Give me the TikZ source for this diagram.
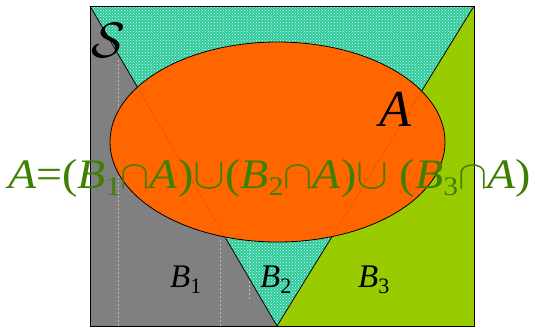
\documentclass[tikz,border=0pt]{standalone}
\usepackage{graphicx}
\usepackage{fontspec}
\setmainfont{Liberation Serif}
\usetikzlibrary{patterns}
\definecolor{grayB}{HTML}{808080}
\definecolor{tealB}{HTML}{2FCB9C}
\definecolor{greenB}{HTML}{99CC00}
\definecolor{orangeA}{HTML}{FF6600}
\definecolor{textgreen}{HTML}{3F7F00}
\newcommand\fsub[1]{\raisebox{-7pt}{\fontsize{27}{27}\selectfont #1}}
\newcommand\lsub[1]{\raisebox{-6pt}{\fontsize{22}{22}\selectfont #1}}
\newcommand\capsym{\scalebox{1.6}{\Huge$\cap$}}
\newcommand\cupsym{\scalebox{1.75}{\Huge$\cup$}}
\tikzset{
  edgeline/.style={draw=black, line width=0.8pt},
  ghost/.style={draw=white, opacity=0.45, dash pattern=on 2pt off 2pt, line width=0.6pt},
  formula/.style={anchor=base west, inner sep=0pt, text=textgreen, font=\fontsize{42}{48}\selectfont},
  blabel/.style={anchor=base west, inner sep=0pt, text=black, font=\fontsize{33}{36}\selectfont},
}
\begin{document}
\begin{tikzpicture}[x=1pt,y=-1pt]
\useasboundingbox (0,0) rectangle (538,327);
\coordinate (TL) at (90,6);
\coordinate (TR) at (474,6);
\coordinate (BL) at (90,326);
\coordinate (BR) at (474,326);
\coordinate (V) at (277,326);
% regions
\fill[grayB] (TL) -- (V) -- (BL) -- cycle;
\fill[greenB] (TR) -- (BR) -- (V) -- cycle;
\fill[tealB] (TL) -- (TR) -- (V) -- cycle;
\fill[pattern=crosshatch dots, pattern color=white!85!tealB] (TL) -- (TR) -- (V) -- cycle;
% faint vertical artifacts in B1
\draw[ghost] (118,60) -- (118,326);
\draw[ghost] (220,240) -- (220,326);
\draw[ghost] (249,245) -- (249,300);
% triangle edges and frame
\draw[edgeline] (TL) -- (V) -- (TR);
\draw[line width=0.8pt] (TL) rectangle (BR);
% ellipse A
\filldraw[fill=orangeA, draw=black, line width=0.8pt] (277.5,142) ellipse [x radius=167.5, y radius=100];
\begin{scope}
  \clip (277.5,142) ellipse [x radius=167.5, y radius=100];
  \draw[black, opacity=0.35, dotted, line width=0.7pt] (TL) -- (V) -- (TR);
\end{scope}
% labels
\node[anchor=base west, inner sep=0pt] (S) at (91,57) {\scalebox{2.0}{\Huge$\mathcal{S}$}};
\node[anchor=base west, inner sep=0pt, font=\fontsize{52}{56}\selectfont] (Alab) at (379,126) {\textit{A}};
\node[blabel] (B1) at (170,287) {\textit{B}\lsub{1}};
\node[blabel] (B2) at (260,287) {\textit{B}\lsub{2}};
\node[blabel] (B3) at (358,287) {\textit{B}\lsub{3}};
\node[formula] (F) at (8,188) {\scalebox{1.097}[1]{\textit{A}=(\textit{B}\fsub{1}\capsym\textit{A})\cupsym(\textit{B}\fsub{2}\capsym\textit{A})\cupsym\ (\textit{B}\fsub{3}\capsym\textit{A})}};
\end{tikzpicture}
\end{document}
